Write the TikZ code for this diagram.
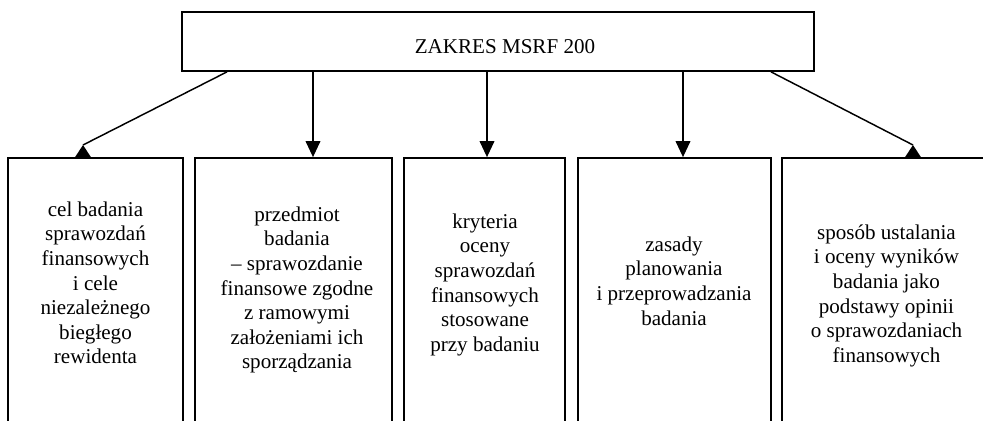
\documentclass[tikz,border=0pt]{standalone}
\usepackage{fontspec}
\setmainfont{Liberation Serif}
\usetikzlibrary{arrows.meta}
\begin{document}
\begin{tikzpicture}[x=0.75pt,y=-0.75pt,
  boxst/.style={draw, line width=1.3pt, fill=white, inner sep=0pt},
  txt/.style={align=center, font=\fontsize{15.8}{18.4}\selectfont, inner sep=0pt, anchor=north},
  arr/.style={line width=1.1pt, -{Triangle[length=12pt,width=11pt]}},
  conn/.style={line width=1.1pt},
  headst/.style={fill=black}]
\useasboundingbox (0,0) rectangle (983,421);
\clip (0,0) rectangle (983,421);
% top box
\node[boxst, minimum width=474pt, minimum height=44.25pt] (top) at (498,41.5) {};
\node[font=\fontsize{15.8}{18.4}\selectfont, inner sep=0pt, anchor=base] (toplabel) at (505,53) {ZAKRES MSRF 200};
% lower boxes (cut off at the bottom of the picture)
\node[boxst, minimum width=131.25pt, minimum height=219pt] (b1) at (95.5,304) {};
\node[boxst, minimum width=147.75pt, minimum height=219pt] (b2) at (293.5,304) {};
\node[boxst, minimum width=120.75pt, minimum height=219pt] (b3) at (484.5,304) {};
\node[boxst, minimum width=144.75pt, minimum height=219pt] (b4) at (674.5,304) {};
\node[boxst, minimum width=156.75pt, minimum height=219pt] (b5) at (886.5,304) {};
% texts
\node[txt] (t1) at (95.5,199) {\strut cel badania\\sprawozdań\\finansowych\\i cele\\niezależnego\\biegłego\\rewidenta};
\node[txt] (t2) at (297,204) {\strut przedmiot\\badania\\– sprawozdanie\\finansowe zgodne\\z ramowymi\\założeniami ich\\sporządzania};
\node[txt] (t3) at (485,211) {\strut kryteria\\oceny\\sprawozdań\\finansowych\\stosowane\\przy badaniu};
\node[txt] (t4) at (674,234) {\strut zasady\\planowania\\i przeprowadzania\\badania};
\node[txt] (t5) at (886.5,222) {\strut sposób ustalania\\i oceny wyników\\badania jako\\podstawy opinii\\o sprawozdaniach\\finansowych};
% connectors
\coordinate (s1) at (227,0);
\coordinate (s5) at (771,0);
\coordinate (v2) at (313,0);
\coordinate (v3) at (487,0);
\coordinate (v4) at (683,0);
\coordinate (h1) at (83,145);
\coordinate (h5) at (913,145);
\draw[conn] (top.south -| s1) -- (h1);
\fill[headst] (h1) -- ++(-8.5,13) -- ++(17,0) -- cycle;
\draw[conn] (top.south -| s5) -- (h5);
\fill[headst] (h5) -- ++(-8.5,13) -- ++(17,0) -- cycle;
\draw[arr] (top.south -| v2) -- (b2.north -| v2);
\draw[arr] (top.south -| v3) -- (b3.north -| v3);
\draw[arr] (top.south -| v4) -- (b4.north -| v4);
\end{tikzpicture}
\end{document}
